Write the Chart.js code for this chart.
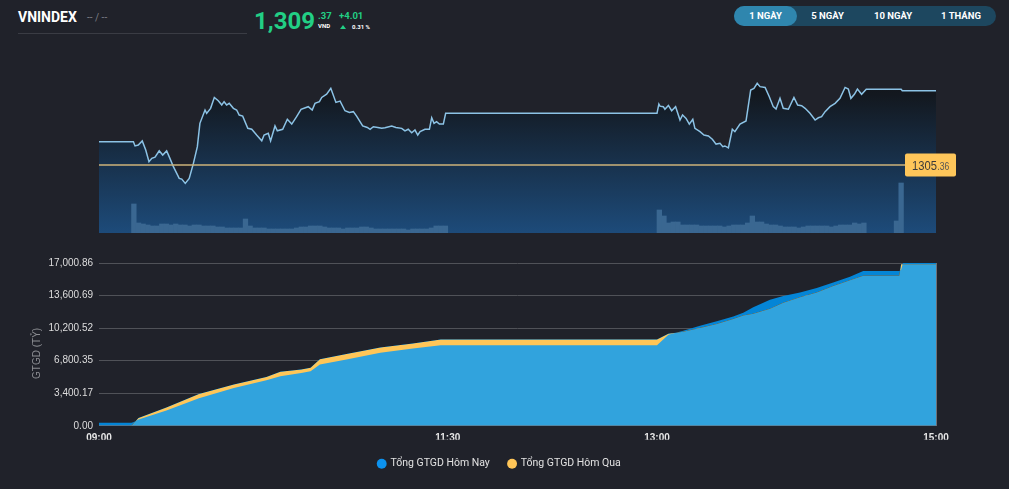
<!DOCTYPE html>
<html><head><meta charset="utf-8">
<script src="https://cdn.jsdelivr.net/npm/chart.js@4.4.1/dist/chart.umd.min.js"></script>
<style>
html,body{margin:0;padding:0;background:#20222a;width:1009px;height:489px;overflow:hidden;font-family:Roboto,"Noto Sans",sans-serif;}
.t{position:absolute;white-space:nowrap;line-height:1;}
.btn{position:absolute;top:6px;height:20px;line-height:20px;font-size:9.5px;font-weight:700;color:#fff;text-align:center;font-family:Roboto,sans-serif;}
#c1w{position:absolute;left:0;top:40px;width:1009px;height:200px;}
#c2w{position:absolute;left:0;top:250px;width:1009px;height:229px;}
</style></head><body>
<div class="t" style="left:18px;top:10px;font-size:14px;font-weight:700;color:#fff">VNINDEX</div>
<div class="t" style="left:87px;top:12.5px;font-size:10px;color:#7c7e85">-- / --</div>
<div style="position:absolute;left:18px;top:33px;width:229px;height:1px;background:#3a3c44"></div>
<div class="t" style="left:254px;top:8.6px;font-size:24px;font-weight:700;color:#22cf85">1,309</div>
<div class="t" style="left:318px;top:11.4px;font-size:9.5px;font-weight:700;color:#22cf85">.37</div>
<div class="t" style="left:318px;top:23.2px;font-size:6px;font-weight:700;color:#fff">VND</div>
<div class="t" style="left:339px;top:11.4px;font-size:9.5px;font-weight:700;color:#22cf85">+4.01</div>
<div style="position:absolute;left:340px;top:25px;width:0;height:0;border-left:3.5px solid transparent;border-right:3.5px solid transparent;border-bottom:4px solid #22cf85"></div>
<div class="t" style="left:352px;top:23.8px;font-size:6px;font-weight:700;color:#fff">0.31 %</div>

<div style="position:absolute;left:734px;top:6px;width:262px;height:20px;border-radius:10px;background:#1d475f"></div>
<div style="position:absolute;left:734px;top:6px;width:63px;height:20px;border-radius:10px;background:#2f86ae"></div>
<div class="btn" style="left:734px;width:63px">1 NGÀY</div>
<div class="btn" style="left:797px;width:61px">5 NGÀY</div>
<div class="btn" style="left:858px;width:70px">10 NGÀY</div>
<div class="btn" style="left:926px;width:70px">1 THÁNG</div>

<div id="c1w"><canvas id="c1"></canvas></div>
<div id="c2w"><canvas id="c2"></canvas></div>
<script>
// ---- Intraday VNINDEX (minutes after 09:00) ----
const priceMinutes = [0,14.8,15.5,16.9,18.6,20.1,21.5,22.7,24.1,25.9,27.4,29.1,30.5,32.0,34.5,35.6,37.1,38.8,40.6,42.3,43.4,45.6,46.3,48.0,49.6,51.3,52.8,53.8,54.9,56.0,57.8,59.2,60.3,61.8,64.0,65.7,67.8,70.0,71.0,72.8,73.8,75.7,76.7,79.0,81.0,82.9,85.0,86.9,90.0,91.7,92.9,94.8,95.8,97.9,99.7,101.9,103.7,105.8,107.7,109.4,110.8,113.4,115.4,116.6,118.0,119.9,121.6,123.0,125.9,127.7,130.2,131.6,133.0,134.5,135.9,137.1,138.1,140.2,142.1,143.1,144.1,145.2,146.4,148.1,149.1,240.0,240.8,241.3,242.7,243.4,244.9,246.3,248.0,249.9,251.0,252.5,253.9,255.4,256.3,258.5,260.2,262.1,263.8,265.4,267.1,268.3,269.2,270.7,272.4,273.5,275.7,278.3,280.3,281.7,283.1,284.3,286.5,288.3,290.0,291.2,292.9,294.3,296.5,298.9,300.5,302.2,303.7,305.8,308.0,309.4,310.8,312.3,314.4,316.6,318.7,320.9,322.3,323.4,324.9,326.2,328.0,330.0,345.0,345.5,360];
const priceValues = [1306.62,1306.62,1306.39,1306.44,1306.66,1306.17,1305.54,1305.72,1305.78,1306.13,1305.90,1306.12,1305.72,1305.27,1304.64,1304.60,1304.37,1304.64,1305.45,1306.35,1307.61,1308.33,1308.15,1308.42,1309.01,1308.83,1308.60,1308.78,1308.60,1308.69,1308.42,1308.33,1308.06,1308.00,1307.34,1307.29,1306.98,1306.67,1306.98,1307.07,1306.66,1307.47,1307.21,1307.29,1307.83,1307.57,1307.97,1308.37,1308.51,1308.33,1308.69,1308.78,1309.01,1309.19,1309.50,1308.74,1308.81,1308.29,1308.20,1308.24,1308.00,1307.47,1307.39,1307.29,1307.43,1307.39,1307.34,1307.37,1307.47,1307.39,1307.34,1307.20,1307.29,1307.10,1307.25,1306.98,1307.16,1307.29,1307.29,1307.91,1307.61,1307.70,1307.57,1307.57,1308.15,1308.15,1308.65,1308.54,1308.51,1308.37,1308.58,1308.29,1308.51,1307.79,1308.06,1307.88,1307.57,1307.83,1307.34,1307.16,1306.98,1306.93,1306.75,1306.49,1306.53,1306.35,1306.39,1306.29,1307.29,1307.16,1307.57,1307.74,1309.41,1309.50,1309.77,1309.59,1309.55,1309.05,1308.51,1308.38,1308.96,1308.42,1308.37,1309.01,1308.60,1308.56,1308.42,1308.15,1307.79,1307.91,1307.97,1308.24,1308.51,1308.69,1308.96,1309.55,1309.46,1308.96,1309.18,1309.46,1309.18,1309.45,1309.45,1309.37,1309.37];
const refPrice = 1305.36;

const volumeMinutes = [15,17,19,21,23,25,27,29,31,33,35,37,39,41,43,45,47,49,51,53,55,57,59,61,63,65,67,69,71,73,75,77,79,81,83,85,87,89,91,93,95,97,99,101,103,105,107,109,111,113,115,117,119,121,123,125,127,129,131,133,135,137,139,141,143,145,147,149,
241,243,245,247,249,251,253,255,257,259,261,263,265,267,269,271,273,275,277,279,281,283,285,287,289,291,293,295,297,299,301,303,305,307,309,311,313,315,317,319,321,323,325,327,329,343,345];
const volumeValues = [29,10,9,8,7,7,9,9,8,9,8,8,7,8,8,7,7,7,6,6,5,5,5,5,14,7,5,5,5,4,4,4,4,4,4,5,6,6,7,7,7,6,5,5,5,4,5,5,5,6,6,5,4,4,4,4,4,4,4,3,4,4,4,4,5,7,7,7,
23,17,10,11,11,8,8,8,8,7,7,7,7,7,6,7,8,8,8,10,17,11,11,9,8,8,7,6,6,6,5,6,7,7,7,7,7,6,7,8,8,8,10,9,10,12,50];

// ---- Cumulative trading value (tỷ đồng) ----
const gtgdMinutes = [0,14,15,17,29,43,58,72,78,87,91,95,107,121,135,147,150,240,244.9,251.3,258.5,265.7,272.8,277.1,281.4,288.6,294.3,301.5,308.7,315.8,323,328.7,344.2,345,345.8,360];
const todayValues = [317,317,400,650,1584,2883,3939,4752,5174,5523,5702,6410,6938,7635,8057,8400,8400,8400,9504,9926,10454,10908,11405,11796,12387,13168,13548,13908,14393,14964,15555,16157,16157,16300,17000.86,17000.86];
const yesterdayValues = [0,0,300,800,1900,3305,4298,5100,5628,5882,6051,6938,7529,8163,8585,9000,9000,9000,9600,9821,10212,10634,11162,11510,11690,12218,12852,13411,13908,14604,15206,15660,15660,16864,16864,16864];
const seriesLabels = ['Tổng GTGD Hôm Nay','Tổng GTGD Hôm Qua'];
const yAxisTitle = 'GTGD (TỶ)';

const xTickMinutes = [0,150,240,360];
const xTickLabels = ['09:00','11:30','13:00','15:00'];
const yTickValues = [0,3400.17,6800.35,10200.52,13600.69,17000.86];

const pts = (xs, ys) => xs.map((x,i)=>({x:x, y:ys[i]}));

const refLabel = {
  id:'refLabel',
  afterDraw(chart){
    const ctx = chart.ctx, a = chart.chartArea;
    const y = chart.scales.y.getPixelForValue(refPrice);
    const x0 = a.right - 31, w = 51, h = 23;
    ctx.save();
    ctx.fillStyle = '#fec65a';
    ctx.beginPath();
    ctx.roundRect(x0, y - h/2, w, h, 2);
    ctx.fill();
    const s = refPrice.toFixed(2).split('.');
    ctx.translate(x0 + 7, y + 5);
    ctx.scale(0.86, 1);
    ctx.textBaseline = 'alphabetic';
    ctx.fillStyle = '#3a3a3a';
    ctx.font = '13px Arial, sans-serif';
    ctx.fillText(s[0], 0, 0);
    const w1 = ctx.measureText(s[0]).width;
    ctx.fillStyle = '#555';
    ctx.font = '10px Arial, sans-serif';
    ctx.fillText('.' + s[1], w1 + 0.5, 0);
    ctx.restore();
  }
};

new Chart(document.getElementById('c1'), {
  data:{datasets:[
    {type:'line', label:'VNINDEX', data:pts(priceMinutes, priceValues), yAxisID:'y', order:3,
     borderColor:'#8cc3e6', borderWidth:1.5, pointRadius:0, tension:0, fill:'start',
     backgroundColor:(c)=>{const ch=c.chart, a=ch.chartArea; if(!a) return 'transparent';
       const g=ch.ctx.createLinearGradient(0,a.top,0,a.bottom);
       g.addColorStop(0,'#101318'); g.addColorStop(0.2,'#13181f'); g.addColorStop(1,'#1d4b7a'); return g;}},
    {type:'bar', label:'KL', data:pts(volumeMinutes, volumeValues), yAxisID:'yv', order:2,
     backgroundColor:'#3a6791', borderWidth:0, barPercentage:1, categoryPercentage:1},
    {type:'line', label:'Tham chiếu', data:[{x:0,y:refPrice},{x:360,y:refPrice}], yAxisID:'y', order:1,
     borderColor:'#cdb37a', borderWidth:1.5, pointRadius:0, fill:false}
  ]},
  options:{
    responsive:true, maintainAspectRatio:false, animation:false,
    layout:{padding:{left:99,right:73,top:20,bottom:7}},
    plugins:{legend:{display:false}, tooltip:{enabled:false}},
    scales:{
      x:{type:'linear', min:0, max:360, offset:false, display:false},
      y:{min:1301.69, max:1311.03, display:false},
      yv:{min:0, max:173, display:false}
    }
  },
  plugins:[refLabel]
});

const fmt = v => v.toLocaleString('en-US',{minimumFractionDigits:2, maximumFractionDigits:2});

const yTitle = {
  id:'yTitle',
  afterDraw(chart){
    const ctx = chart.ctx, a = chart.chartArea;
    ctx.save();
    ctx.translate(37, a.top + (a.bottom - a.top)/2 + 9);
    ctx.rotate(-Math.PI/2);
    ctx.fillStyle = '#8b8d92';
    ctx.font = '10px Arial, sans-serif';
    ctx.textAlign = 'center';
    ctx.textBaseline = 'middle';
    ctx.fillText(yAxisTitle, 0, 0);
    ctx.restore();
  }
};

new Chart(document.getElementById('c2'), {
  type:'line',
  data:{datasets:[
    {label:seriesLabels[0], data:pts(gtgdMinutes, todayValues), borderWidth:0, pointRadius:0, tension:0,
     backgroundColor:'#0c92ee', borderColor:'#0c92ee', fill:{target:1, above:'#0485d6', below:'#ffc658'}},
    {label:seriesLabels[1], data:pts(gtgdMinutes, yesterdayValues), borderWidth:0, pointRadius:0, tension:0,
     backgroundColor:'#ffc658', borderColor:'#ffc658', fill:{target:'origin', above:'#31a3dd', below:'#31a3dd'}}
  ]},
  options:{
    responsive:true, maintainAspectRatio:false, animation:false,
    layout:{padding:{top:13,left:0,right:10,bottom:0}},
    plugins:{
      tooltip:{enabled:false},
      legend:{position:'bottom', labels:{usePointStyle:true, pointStyle:'circle', boxWidth:7, boxHeight:7, padding:18.75,
        color:'#e2e2e2', font:{family:'Roboto', size:10.5}}}
    },
    scales:{
      x:{type:'linear', min:0, max:360,
         afterBuildTicks:s=>{s.ticks = xTickMinutes.map(v=>({value:v}));},
         afterFit:s=>{s.height = 14;},
         ticks:{callback:(v,i)=>xTickLabels[i], color:'#e6e6e6', font:{family:'Arial', size:10, weight:'bold'}, padding:6, maxRotation:0, autoSkip:false},
         grid:{display:false, drawTicks:false}, border:{display:true, color:'#6e7076'}},
      y:{min:0, max:17000.86,
         afterBuildTicks:s=>{s.ticks = yTickValues.map(v=>({value:v}));},
         afterFit:s=>{s.width = 99;},
         ticks:{callback:v=>fmt(v), color:'#dedede', font:{family:'Arial', size:10}, padding:6},
         grid:{color:'#505258', drawTicks:false}, border:{display:false}},
      yr:{position:'right', min:0, max:17000.86, afterFit:s=>{s.width = 63;},
         ticks:{display:false}, grid:{display:false, drawTicks:false}, border:{display:true, color:'#6e7076'}}
    }
  },
  plugins:[yTitle]
});
</script>
</body></html>
